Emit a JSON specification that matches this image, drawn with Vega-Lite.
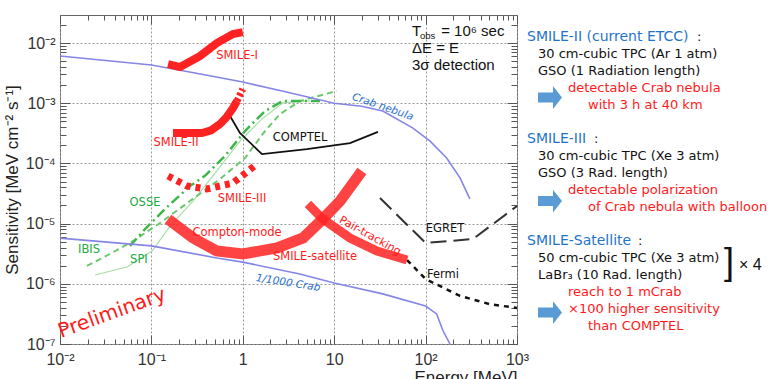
{
  "$schema": "https://vega.github.io/schema/vega-lite/v6.json",
  "background": "white",
  "padding": {"left": 2, "top": 14, "right": 0, "bottom": 0},
  "bounds": "flush",
  "spacing": 3,
  "config": {"view": {"stroke": null}},
  "resolve": {"scale": {"x": "independent", "y": "independent", "color": "independent"}},
  "datasets": {
    "curves": [
      {"series": "Crab", "E": 0.01, "S": 6.08e-3}, {"series": "Crab", "E": 0.1, "S": 4.32e-3}, {"series": "Crab", "E": 0.3, "S": 3.18e-3}, {"series": "Crab", "E": 1, "S": 2.25e-3}, {"series": "Crab", "E": 3, "S": 1.53e-3}, {"series": "Crab", "E": 10, "S": 1.0e-3}, {"series": "Crab", "E": 20, "S": 8.9e-4}, {"series": "Crab", "E": 34, "S": 7.4e-4}, {"series": "Crab", "E": 72, "S": 3.9e-4}, {"series": "Crab", "E": 112, "S": 2.34e-4}, {"series": "Crab", "E": 170, "S": 1.23e-4}, {"series": "Crab", "E": 238, "S": 5.75e-5}, {"series": "Crab", "E": 305, "S": 2.57e-5},
      {"series": "Crab1000", "E": 0.01, "S": 5.75e-6}, {"series": "Crab1000", "E": 0.1, "S": 4.27e-6}, {"series": "Crab1000", "E": 0.52, "S": 2.69e-6}, {"series": "Crab1000", "E": 1, "S": 2.29e-6}, {"series": "Crab1000", "E": 4.2, "S": 1.46e-6}, {"series": "Crab1000", "E": 10, "S": 1.03e-6}, {"series": "Crab1000", "E": 34, "S": 6.8e-7}, {"series": "Crab1000", "E": 100, "S": 4.27e-7}, {"series": "Crab1000", "E": 132, "S": 3.16e-7}, {"series": "Crab1000", "E": 155, "S": 1.66e-7}, {"series": "Crab1000", "E": 185, "S": 1.0e-7},
      {"series": "SMILE-I", "E": 0.152, "S": 4.48e-3}, {"series": "SMILE-I", "E": 0.206, "S": 3.99e-3}, {"series": "SMILE-I", "E": 0.34, "S": 6.08e-3}, {"series": "SMILE-I", "E": 0.52, "S": 1.0e-2}, {"series": "SMILE-I", "E": 0.78, "S": 1.41e-2}, {"series": "SMILE-I", "E": 1.0, "S": 1.52e-2},
      {"series": "SMILE-II", "E": 0.172, "S": 3.2e-4}, {"series": "SMILE-II", "E": 0.358, "S": 3.2e-4}, {"series": "SMILE-II", "E": 0.45, "S": 3.55e-4}, {"series": "SMILE-II", "E": 0.563, "S": 4.52e-4}, {"series": "SMILE-II", "E": 0.66, "S": 5.8e-4}, {"series": "SMILE-II", "E": 0.78, "S": 8.3e-4}, {"series": "SMILE-II", "E": 0.865, "S": 1.09e-3},
      {"series": "SMILE-II-ext", "E": 0.865, "S": 1.09e-3}, {"series": "SMILE-II-ext", "E": 1.0, "S": 1.72e-3},
      {"series": "SMILE-III", "E": 0.152, "S": 6.18e-5}, {"series": "SMILE-III", "E": 0.245, "S": 4.22e-5}, {"series": "SMILE-III", "E": 0.405, "S": 3.76e-5}, {"series": "SMILE-III", "E": 0.78, "S": 4.72e-5}, {"series": "SMILE-III", "E": 1.43, "S": 9.77e-5},
      {"series": "Compton", "E": 0.152, "S": 1.19e-5}, {"series": "Compton", "E": 0.285, "S": 5.77e-6}, {"series": "Compton", "E": 0.52, "S": 3.51e-6}, {"series": "Compton", "E": 1.0, "S": 3.13e-6}, {"series": "Compton", "E": 2.37, "S": 3.94e-6}, {"series": "Compton", "E": 4.56, "S": 5.77e-6}, {"series": "Compton", "E": 7.5, "S": 1.19e-5}, {"series": "Compton", "E": 11.6, "S": 2.37e-5}, {"series": "Compton", "E": 20.1, "S": 7.48e-5},
      {"series": "Pair", "E": 5.16, "S": 2.12e-5}, {"series": "Pair", "E": 7.5, "S": 1.19e-5}, {"series": "Pair", "E": 14.9, "S": 5.77e-6}, {"series": "Pair", "E": 29.4, "S": 3.51e-6}, {"series": "Pair", "E": 62.7, "S": 2.48e-6},
      {"series": "Fermi", "E": 62.7, "S": 2.48e-6}, {"series": "Fermi", "E": 100, "S": 1.2e-6}, {"series": "Fermi", "E": 238, "S": 6.3e-7}, {"series": "Fermi", "E": 507, "S": 4.57e-7}, {"series": "Fermi", "E": 1000, "S": 3.98e-7},
      {"series": "EGRET", "E": 31.7, "S": 2.66e-5}, {"series": "EGRET", "E": 100, "S": 4.76e-6}, {"series": "EGRET", "E": 330, "S": 5.55e-6}, {"series": "EGRET", "E": 1000, "S": 1.96e-5},
      {"series": "COMPTEL", "E": 0.724, "S": 6.12e-4}, {"series": "COMPTEL", "E": 0.93, "S": 3.2e-4}, {"series": "COMPTEL", "E": 1.62, "S": 1.43e-4}, {"series": "COMPTEL", "E": 5.03, "S": 1.73e-4}, {"series": "COMPTEL", "E": 14.9, "S": 2.18e-4}, {"series": "COMPTEL", "E": 30.1, "S": 3.33e-4},
      {"series": "IBIS", "E": 0.0197, "S": 1.98e-6}, {"series": "IBIS", "E": 0.0352, "S": 3.13e-6}, {"series": "IBIS", "E": 0.063, "S": 5.14e-6}, {"series": "IBIS", "E": 0.124, "S": 1.02e-5}, {"series": "IBIS", "E": 0.264, "S": 2.37e-5}, {"series": "IBIS", "E": 0.564, "S": 5.5e-5}, {"series": "IBIS", "E": 1.057, "S": 1.23e-4}, {"series": "IBIS", "E": 1.75, "S": 3.45e-4}, {"series": "IBIS", "E": 2.55, "S": 6.6e-4}, {"series": "IBIS", "E": 4.23, "S": 1.09e-3}, {"series": "IBIS", "E": 10.7, "S": 1.6e-3},
      {"series": "SPI", "E": 0.0242, "S": 1.4e-6}, {"series": "SPI", "E": 0.0541, "S": 1.9e-6}, {"series": "SPI", "E": 0.1016, "S": 3.51e-6}, {"series": "SPI", "E": 0.16, "S": 9.1e-6}, {"series": "SPI", "E": 0.285, "S": 2.37e-5}, {"series": "SPI", "E": 0.497, "S": 6.9e-5}, {"series": "SPI", "E": 0.931, "S": 2.35e-4}, {"series": "SPI", "E": 1.62, "S": 5.5e-4}, {"series": "SPI", "E": 2.75, "S": 1.01e-3}, {"series": "SPI", "E": 5.43, "S": 1.09e-3},
      {"series": "OSSE", "E": 0.0583, "S": 4.25e-6}, {"series": "OSSE", "E": 0.0851, "S": 8.1e-6}, {"series": "OSSE", "E": 0.141, "S": 1.75e-5}, {"series": "OSSE", "E": 0.264, "S": 4.2e-5}, {"series": "OSSE", "E": 0.385, "S": 6.2e-5}, {"series": "OSSE", "E": 0.638, "S": 1.33e-4}, {"series": "OSSE", "E": 1.057, "S": 3.45e-4}, {"series": "OSSE", "E": 1.75, "S": 7.4e-4}, {"series": "OSSE", "E": 2.75, "S": 1.09e-3}, {"series": "OSSE", "E": 7.0, "S": 1.09e-3}
    ],
    "labels": [
      {"t": "SMILE-I", "E": 0.865, "S": 6.1e-3, "grp": "SMILE"},
      {"t": "SMILE-II", "E": 0.186, "S": 2.18e-4, "grp": "SMILE"},
      {"t": "SMILE-III", "E": 0.98, "S": 2.56e-5, "grp": "SMILE"},
      {"t": "Compton-mode", "E": 0.865, "S": 6.98e-6, "grp": "SMILE"},
      {"t": "SMILE-satellite", "E": 6.17, "S": 2.79e-6, "grp": "SMILE"},
      {"t": "COMPTEL", "E": 4.23, "S": 2.64e-4, "grp": "gamma"},
      {"t": "EGRET", "E": 163, "S": 8.1e-6, "grp": "gamma"},
      {"t": "Fermi", "E": 155, "S": 1.4e-6, "grp": "gamma"},
      {"t": "OSSE", "E": 0.0851, "S": 2.2e-5, "grp": "hardx"},
      {"t": "IBIS", "E": 0.0208, "S": 3.64e-6, "grp": "hardx"},
      {"t": "SPI", "E": 0.073, "S": 2.48e-6, "grp": "hardx"}
    ],
    "panel": [
      {"t": "SMILE-II (current ETCC)", "x": 7, "line": 0, "role": "head"},
      {"t": ":", "x": 177, "line": 0, "role": "body"},
      {"t": "30 cm-cubic TPC (Ar 1 atm)", "x": 18, "line": 1, "role": "body"},
      {"t": "GSO (1 Radiation length)", "x": 18, "line": 2, "role": "body"},
      {"t": "detectable Crab nebula", "x": 48, "line": 3, "role": "note"},
      {"t": "with 3 h at 40 km", "x": 68, "line": 4, "role": "note"},
      {"t": "SMILE-III", "x": 7, "line": 6, "role": "head"},
      {"t": ":", "x": 74, "line": 6, "role": "body"},
      {"t": "30 cm-cubic TPC (Xe 3 atm)", "x": 18, "line": 7, "role": "body"},
      {"t": "GSO (3 Rad. length)", "x": 18, "line": 8, "role": "body"},
      {"t": "detectable polarization", "x": 48, "line": 9, "role": "note"},
      {"t": "of Crab nebula with balloon", "x": 68, "line": 10, "role": "note"},
      {"t": "SMILE-Satellite", "x": 7, "line": 12, "role": "head"},
      {"t": ":", "x": 118, "line": 12, "role": "body"},
      {"t": "50 cm-cubic TPC (Xe 3 atm)", "x": 18, "line": 13, "role": "body"},
      {"t": "LaBr₃ (10 Rad. length)", "x": 18, "line": 14, "role": "body"},
      {"t": "reach to 1 mCrab", "x": 48, "line": 15, "role": "note"},
      {"t": "×100 higher sensitivity", "x": 48, "line": 16, "role": "note"},
      {"t": "than COMPTEL", "x": 68, "line": 17, "role": "note"}
    ],
    "arrows": [
      {"x": 30, "line": 3.56},
      {"x": 30, "line": 9.65},
      {"x": 30, "line": 16.21}
    ]
  },
  "hconcat": [
    {
      "width": 457,
      "height": 329,
      "view": {"stroke": "#666", "strokeWidth": 1},
      "resolve": {"axis": {"x": "independent", "y": "independent"}},
      "encoding": {
        "x": {"field": "E", "type": "quantitative", "scale": {"type": "log", "domain": [0.01, 1000], "nice": false}, "axis": null},
        "y": {"field": "S", "type": "quantitative", "scale": {"type": "log", "domain": [1e-7, 0.0292], "nice": false}, "axis": null}
      },
      "layer": [
        {
          "data": {"name": "curves"},
          "transform": [{"filter": "datum.series == 'SPI'"}],
          "mark": {"type": "line", "color": "#a8dea8", "strokeWidth": 1.2, "clip": true},
          "encoding": {
            "x": {"field": "E", "type": "quantitative", "scale": {"type": "log", "domain": [0.01, 1000], "nice": false},
              "axis": {"orient": "bottom", "values": [0.02, 0.03, 0.04, 0.05, 0.06, 0.07, 0.08, 0.09, 0.2, 0.3, 0.4, 0.5, 0.6, 0.7, 0.8, 0.9, 2, 3, 4, 5, 6, 7, 8, 9, 20, 30, 40, 50, 60, 70, 80, 90, 200, 300, 400, 500, 600, 700, 800, 900], "labels": false, "domain": false, "grid": false, "ticks": true, "tickSize": -5, "tickColor": "#555", "title": null}},
            "y": {"field": "S", "type": "quantitative", "scale": {"type": "log", "domain": [1e-7, 0.0292], "nice": false},
              "axis": {"orient": "left", "values": [2e-7, 3e-7, 4e-7, 5e-7, 6e-7, 7e-7, 8e-7, 9e-7, 2e-6, 3e-6, 4e-6, 5e-6, 6e-6, 7e-6, 8e-6, 9e-6, 2e-5, 3e-5, 4e-5, 5e-5, 6e-5, 7e-5, 8e-5, 9e-5, 2e-4, 3e-4, 4e-4, 5e-4, 6e-4, 7e-4, 8e-4, 9e-4, 2e-3, 3e-3, 4e-3, 5e-3, 6e-3, 7e-3, 8e-3, 9e-3, 0.02], "labels": false, "domain": false, "grid": false, "ticks": true, "tickSize": -6, "tickColor": "#555", "title": null}}
          }
        },
        {
          "data": {"name": "curves"},
          "transform": [{"filter": "datum.series == 'IBIS'"}],
          "mark": {"type": "line", "color": "#6cc86c", "strokeWidth": 2, "strokeDash": [6, 4], "clip": true},
          "encoding": {
            "x": {"field": "E", "type": "quantitative", "scale": {"type": "log", "domain": [0.01, 1000], "nice": false},
              "axis": {"orient": "top", "values": [0.01, 0.1, 1, 10, 100, 1000], "labels": false, "domain": false, "grid": false, "ticks": true, "tickSize": -9, "tickColor": "#555", "title": null}},
            "y": {"field": "S", "type": "quantitative", "scale": {"type": "log", "domain": [1e-7, 0.0292], "nice": false},
              "axis": {"orient": "right", "values": [1e-7, 1e-6, 1e-5, 1e-4, 1e-3, 1e-2], "labels": false, "domain": false, "grid": false, "ticks": true, "tickSize": -10, "tickColor": "#555", "title": null}}
          }
        },
        {
          "data": {"name": "curves"},
          "transform": [{"filter": "datum.series == 'OSSE'"}],
          "mark": {"type": "line", "color": "#3fb54a", "strokeWidth": 2.5, "strokeDash": [10, 4, 2, 4], "clip": true},
          "encoding": {
            "x": {"field": "E", "type": "quantitative", "scale": {"type": "log", "domain": [0.01, 1000], "nice": false},
              "axis": {"orient": "top", "values": [0.02, 0.03, 0.04, 0.05, 0.06, 0.07, 0.08, 0.09, 0.2, 0.3, 0.4, 0.5, 0.6, 0.7, 0.8, 0.9, 2, 3, 4, 5, 6, 7, 8, 9, 20, 30, 40, 50, 60, 70, 80, 90, 200, 300, 400, 500, 600, 700, 800, 900], "labels": false, "domain": false, "grid": false, "ticks": true, "tickSize": -5, "tickColor": "#555", "title": null}},
            "y": {"field": "S", "type": "quantitative", "scale": {"type": "log", "domain": [1e-7, 0.0292], "nice": false},
              "axis": {"orient": "right", "values": [2e-7, 3e-7, 4e-7, 5e-7, 6e-7, 7e-7, 8e-7, 9e-7, 2e-6, 3e-6, 4e-6, 5e-6, 6e-6, 7e-6, 8e-6, 9e-6, 2e-5, 3e-5, 4e-5, 5e-5, 6e-5, 7e-5, 8e-5, 9e-5, 2e-4, 3e-4, 4e-4, 5e-4, 6e-4, 7e-4, 8e-4, 9e-4, 2e-3, 3e-3, 4e-3, 5e-3, 6e-3, 7e-3, 8e-3, 9e-3, 0.02], "labels": false, "domain": false, "grid": false, "ticks": true, "tickSize": -6, "tickColor": "#555", "title": null}}
          }
        },
        {
          "data": {"name": "curves"},
          "transform": [{"filter": "datum.series == 'Crab'"}],
          "mark": {"type": "line", "color": "#8585e6", "strokeWidth": 1.6, "clip": true},
          "encoding": {
            "x": {"field": "E", "type": "quantitative", "scale": {"type": "log", "domain": [0.01, 1000], "nice": false},
              "axis": {"orient": "bottom", "values": [0.01, 0.1, 1, 10, 100, 1000], "labelExpr": "datum.value < 0.05 ? '10⁻²' : datum.value < 0.5 ? '10⁻¹' : datum.value < 5 ? '1' : datum.value < 50 ? '10' : datum.value < 500 ? '10²' : '10³'", "labelFlush": false, "labelOverlap": false, "labelBound": false, "labelFont": "Liberation Sans", "labelFontSize": 16, "labelColor": "#333", "labelPadding": 7, "domain": false, "ticks": false, "grid": true, "gridColor": "#999", "gridDash": [2, 2], "gridWidth": 1, "title": "Energy [MeV]", "titleAnchor": "end", "titleFont": "Liberation Sans", "titleFontSize": 17, "titleFontWeight": "normal", "titleColor": "#222", "titlePadding": 2}},
            "y": {"field": "S", "type": "quantitative", "scale": {"type": "log", "domain": [1e-7, 0.0292], "nice": false},
              "axis": {"orient": "left", "values": [1e-7, 1e-6, 1e-5, 1e-4, 1e-3, 1e-2], "labelExpr": "'10⁻' + substring('⁰¹²³⁴⁵⁶⁷', round(-log(datum.value)/LN10), round(-log(datum.value)/LN10) + 1)", "labelFlush": false, "labelOverlap": false, "labelBound": false, "labelFont": "Liberation Sans", "labelFontSize": 16, "labelColor": "#333", "labelPadding": 5, "domain": false, "ticks": false, "grid": true, "gridColor": "#999", "gridDash": [2, 2], "gridWidth": 1, "title": "Sensitivity [MeV cm⁻² s⁻¹]", "titleFont": "Liberation Sans", "titleFontSize": 17, "titleFontWeight": "normal", "titleColor": "#222", "titlePadding": 4}}
          }
        },
        {
          "data": {"name": "curves"},
          "transform": [{"filter": "datum.series == 'Crab1000'"}],
          "mark": {"type": "line", "color": "#8585e6", "strokeWidth": 1.6, "clip": true},
          "encoding": {
            "x": {"field": "E", "type": "quantitative", "scale": {"type": "log", "domain": [0.01, 1000], "nice": false},
              "axis": {"orient": "bottom", "values": [0.01, 0.1, 1, 10, 100, 1000], "labels": false, "domain": false, "grid": false, "ticks": true, "tickSize": -9, "tickColor": "#555", "title": null}},
            "y": {"field": "S", "type": "quantitative", "scale": {"type": "log", "domain": [1e-7, 0.0292], "nice": false},
              "axis": {"orient": "left", "values": [1e-7, 1e-6, 1e-5, 1e-4, 1e-3, 1e-2], "labels": false, "domain": false, "grid": false, "ticks": true, "tickSize": -10, "tickColor": "#555", "title": null}}
          }
        },
        {
          "data": {"name": "curves"},
          "transform": [{"filter": "datum.series == 'COMPTEL'"}],
          "mark": {"type": "line", "color": "#111111", "strokeWidth": 1.8, "clip": true}
        },
        {
          "data": {"name": "curves"},
          "transform": [{"filter": "datum.series == 'EGRET'"}],
          "mark": {"type": "line", "color": "#333333", "strokeWidth": 2, "strokeDash": [16, 7], "clip": true}
        },
        {
          "data": {"name": "curves"},
          "transform": [{"filter": "datum.series == 'Fermi'"}],
          "mark": {"type": "line", "color": "#111111", "strokeWidth": 2.5, "strokeDash": [5, 5], "clip": true}
        },
        {
          "data": {"name": "curves"},
          "transform": [{"filter": "datum.series == 'SMILE-I' || datum.series == 'SMILE-II'"}],
          "mark": {"type": "line", "color": "#ff2222", "strokeWidth": 8, "clip": true},
          "encoding": {"detail": {"field": "series"}}
        },
        {
          "data": {"name": "curves"},
          "transform": [{"filter": "datum.series == 'SMILE-II-ext'"}],
          "mark": {"type": "line", "color": "#ff2222", "strokeWidth": 7, "strokeDash": [3, 2.5], "clip": true}
        },
        {
          "data": {"name": "curves"},
          "transform": [{"filter": "datum.series == 'SMILE-III'"}],
          "mark": {"type": "line", "color": "#ff2222", "strokeWidth": 7, "strokeDash": [5, 5], "clip": true}
        },
        {
          "data": {"name": "curves"},
          "transform": [{"filter": "datum.series == 'Compton'"}],
          "mark": {"type": "line", "color": "#ff2222", "strokeWidth": 11, "opacity": 0.85, "clip": true}
        },
        {
          "data": {"name": "curves"},
          "transform": [{"filter": "datum.series == 'Pair'"}],
          "mark": {"type": "line", "color": "#ff2222", "strokeWidth": 9, "opacity": 0.85, "clip": true}
        },
        {
          "data": {"name": "labels"},
          "mark": {"type": "text", "align": "center", "baseline": "middle", "font": "DejaVu Sans", "fontSize": 11.5},
          "encoding": {
            "text": {"field": "t"},
            "color": {"field": "grp", "type": "nominal", "scale": {"domain": ["SMILE", "gamma", "hardx"], "range": ["#ff1a1a", "#111111", "#22aa44"]}, "legend": null}
          }
        },
        {
          "data": {"values": [{"t": "Crab nebula", "E": 34, "S": 8.65e-4}]},
          "mark": {"type": "text", "align": "center", "baseline": "middle", "font": "DejaVu Sans", "fontSize": 10.5, "fontStyle": "italic", "angle": 19, "color": "#2a6fcf"},
          "encoding": {"text": {"field": "t"}}
        },
        {
          "data": {"values": [{"t": "1/1000 Crab", "E": 3.13, "S": 1.03e-6}]},
          "mark": {"type": "text", "align": "center", "baseline": "middle", "font": "DejaVu Sans", "fontSize": 10.5, "fontStyle": "italic", "angle": 9, "color": "#2a6fcf"},
          "encoding": {"text": {"field": "t"}}
        },
        {
          "data": {"values": [{"t": "Pair-tracking", "E": 24.7, "S": 6.2e-6}]},
          "mark": {"type": "text", "align": "center", "baseline": "middle", "font": "DejaVu Sans", "fontSize": 11, "angle": 29, "color": "#ff1a1a"},
          "encoding": {"text": {"field": "t"}}
        },
        {
          "data": {"values": [{"t": "Preliminary", "E": 0.0371, "S": 3.27e-7}]},
          "mark": {"type": "text", "align": "center", "baseline": "middle", "font": "DejaVu Sans", "fontSize": 20, "angle": -20, "color": "#ff1a1a"},
          "encoding": {"text": {"field": "t"}}
        },
        {
          "data": {"values": [{"t": "T", "E": 71, "S": 0.0158}, {"t": "= 10⁶ sec", "E": 148, "S": 0.0158}, {"t": "ΔE = E", "E": 71, "S": 0.00826}, {"t": "3σ detection", "E": 71, "S": 0.00432}]},
          "mark": {"type": "text", "align": "left", "baseline": "middle", "font": "Liberation Sans", "fontSize": 15, "color": "#111111"},
          "encoding": {"text": {"field": "t"}}
        },
        {
          "data": {"values": [{"t": "obs", "E": 86.9, "S": 0.0129}]},
          "mark": {"type": "text", "align": "left", "baseline": "middle", "font": "Liberation Sans", "fontSize": 9.5, "color": "#111111"},
          "encoding": {"text": {"field": "t"}}
        }
      ]
    },
    {
      "width": 252,
      "height": 329,
      "view": {"stroke": null},
      "encoding": {
        "x": {"field": "x", "type": "quantitative", "scale": {"domain": [0, 252], "nice": false, "zero": false}, "axis": null},
        "y": {"field": "line", "type": "quantitative", "scale": {"domain": [18.06, -1.294], "nice": false, "zero": false}, "axis": null}
      },
      "layer": [
        {
          "data": {"name": "panel"},
          "transform": [{"filter": "datum.role == 'head'"}],
          "mark": {"type": "text", "align": "left", "baseline": "middle", "font": "DejaVu Sans", "fontSize": 14, "color": "#1f74c9"},
          "encoding": {"text": {"field": "t"}}
        },
        {
          "data": {"name": "panel"},
          "transform": [{"filter": "datum.role == 'body'"}],
          "mark": {"type": "text", "align": "left", "baseline": "middle", "font": "DejaVu Sans", "fontSize": 13, "color": "#111111"},
          "encoding": {"text": {"field": "t"}}
        },
        {
          "data": {"name": "panel"},
          "transform": [{"filter": "datum.role == 'note'"}],
          "mark": {"type": "text", "align": "left", "baseline": "middle", "font": "DejaVu Sans", "fontSize": 13, "color": "#ff1a1a"},
          "encoding": {"text": {"field": "t"}}
        },
        {
          "data": {"name": "arrows"},
          "mark": {"type": "point", "shape": "M-1,-0.42L0.25,-0.42L0.25,-0.95L1,0L0.25,0.95L0.25,0.42L-1,0.42Z", "size": 576, "filled": true, "color": "#5b9bd5", "opacity": 1, "strokeWidth": 0}
        },
        {
          "data": {"values": [{"t": "]", "x": 214, "line": 13.3}]},
          "mark": {"type": "text", "align": "right", "baseline": "middle", "font": "Liberation Sans", "fontSize": 36, "fontWeight": 300, "color": "#111111"},
          "encoding": {"text": {"field": "t"}}
        },
        {
          "data": {"values": [{"t": "× 4", "x": 219, "line": 13.41}]},
          "mark": {"type": "text", "align": "left", "baseline": "middle", "font": "Liberation Sans", "fontSize": 16, "color": "#111111"},
          "encoding": {"text": {"field": "t"}}
        }
      ]
    }
  ]
}
